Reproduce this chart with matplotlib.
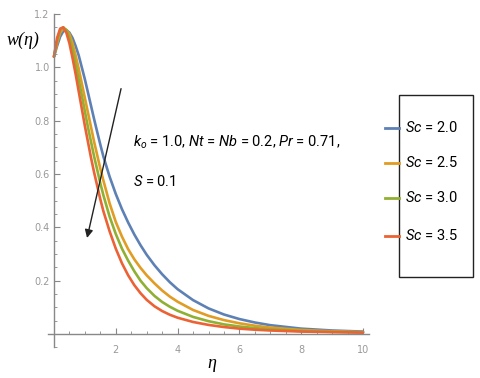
import matplotlib
matplotlib.use("Agg")
import matplotlib.pyplot as plt
from matplotlib.lines import Line2D
from matplotlib.patches import Rectangle
from matplotlib.ticker import MultipleLocator, FixedLocator

narrow = "Roboto"
plt.rcParams["mathtext.fontset"] = "custom"
plt.rcParams["mathtext.rm"] = narrow
plt.rcParams["mathtext.it"] = narrow + ":italic"

eta = [0, 0.1, 0.2, 0.3, 0.4, 0.5, 0.6, 0.7, 0.8, 0.9, 1.0, 1.1, 1.2, 1.3, 1.4, 1.5, 1.6,
       1.8, 2.0, 2.2, 2.4, 2.6, 2.8, 3.0, 3.25, 3.5, 3.75, 4.0, 4.5, 5.0, 5.5, 6.0, 6.5,
       7.0, 8.0, 9.0, 10.0]

w_sc20 = [1.04, 1.08, 1.115, 1.135, 1.14, 1.13, 1.11, 1.08, 1.045, 1.0, 0.955, 0.905, 0.855,
          0.805, 0.757, 0.71, 0.665, 0.59, 0.525, 0.468, 0.418, 0.373, 0.333, 0.297, 0.258,
          0.224, 0.194, 0.168, 0.127, 0.096, 0.073, 0.056, 0.043, 0.033, 0.02, 0.013, 0.009]
w_sc25 = [1.04, 1.09, 1.13, 1.145, 1.14, 1.125, 1.09, 1.045, 0.995, 0.94, 0.885, 0.83, 0.775,
          0.72, 0.67, 0.62, 0.575, 0.49, 0.42, 0.365, 0.318, 0.28, 0.248, 0.22, 0.19,
          0.163, 0.14, 0.121, 0.09, 0.068, 0.052, 0.04, 0.031, 0.024, 0.015, 0.01, 0.007]
w_sc30 = [1.04, 1.10, 1.14, 1.15, 1.14, 1.11, 1.065, 1.01, 0.955, 0.895, 0.835, 0.775, 0.72,
          0.665, 0.615, 0.565, 0.52, 0.44, 0.375, 0.32, 0.275, 0.235, 0.2, 0.172, 0.143,
          0.12, 0.102, 0.087, 0.064, 0.048, 0.036, 0.028, 0.022, 0.017, 0.011, 0.008, 0.006]
w_sc35 = [1.04, 1.11, 1.145, 1.15, 1.13, 1.09, 1.035, 0.975, 0.91, 0.845, 0.78, 0.72, 0.66,
          0.605, 0.555, 0.505, 0.46, 0.385, 0.32, 0.265, 0.22, 0.183, 0.153, 0.128, 0.104,
          0.086, 0.072, 0.061, 0.045, 0.034, 0.026, 0.02, 0.016, 0.013, 0.009, 0.007, 0.005]

series = [w_sc20, w_sc25, w_sc30, w_sc35]
labels = ["$Sc$ = 2.0", "$Sc$ = 2.5", "$Sc$ = 3.0", "$Sc$ = 3.5"]
colors = ["#5E81B5", "#E19C24", "#8FB032", "#EB6235"]

xticks = [2, 4, 6, 8, 10]
yticks = [0.2, 0.4, 0.6, 0.8, 1.0, 1.2]

W, H = 480, 378
fig = plt.figure(figsize=(W / 100, H / 100), dpi=100)
ax = fig.add_axes([47.8 / W, 1 - 347.3 / H, 321.4 / W, (347.3 - 14) / H])

for ys, c in zip(series, colors):
    ax.plot(eta, ys, color=c, lw=1.9, solid_capstyle="round", solid_joinstyle="round")

ax.set_xlim(-0.2, 10.2)
ax.set_ylim(-0.05, 1.2)

for s in ["top", "right"]:
    ax.spines[s].set_visible(False)
ax.spines["left"].set_position(("data", 0))
ax.spines["bottom"].set_position(("data", 0))
axcol = "#888888"
ax.spines["left"].set_color(axcol)
ax.spines["bottom"].set_color(axcol)
ax.spines["left"].set_linewidth(1.0)
ax.spines["bottom"].set_linewidth(1.0)

ax.xaxis.set_major_locator(FixedLocator(xticks))
ax.yaxis.set_major_locator(FixedLocator(yticks))
ax.xaxis.set_minor_locator(MultipleLocator(0.5))
ax.yaxis.set_minor_locator(MultipleLocator(0.05))
ax.set_xticklabels([str(t) for t in xticks])
ax.set_yticklabels([f"{t:.1f}" for t in yticks])
ax.tick_params(axis="both", which="major", direction="in", length=4, width=0.8,
               color=axcol, labelcolor="#999999", labelsize=7)
ax.tick_params(axis="both", which="minor", direction="in", length=2.2, width=0.6, color=axcol)
ax.tick_params(axis="x", pad=8)
ax.tick_params(axis="y", pad=3)
ax.patch.set_alpha(0)

fig.text(23 / W, 1 - 40 / H, "w(η)", fontsize=13, ha="center", va="center",
         family="Liberation Serif", style="italic")
fig.text(212 / W, 1 - 364 / H, "η", fontsize=13, ha="center", va="center",
         family="Liberation Serif", style="italic")

ax.annotate("", xy=(1.07, 0.36), xytext=(2.17, 0.92),
            arrowprops=dict(arrowstyle="-|>", color="#222222", lw=1.0,
                            mutation_scale=12, shrinkA=0, shrinkB=0))

ax.text(2.55, 0.72, "$k_o$ = 1.0, $Nt$ = $Nb$ = 0.2, $Pr$ = 0.71,", fontsize=10.5,
        ha="left", va="center", family=narrow)
ax.text(2.55, 0.57, "$S$ = 0.1", fontsize=10.5, ha="left", va="center", family=narrow)

# legend box
fig.add_artist(Rectangle((399 / W, 1 - 277 / H), 74 / W, 182 / H, transform=fig.transFigure,
                         fill=False, edgecolor="#222222", lw=1.0))
leg_y = [128, 163, 198, 236]
for yy, lab, c in zip(leg_y, labels, colors):
    fig.add_artist(Line2D([385 / W, 399 / W], [1 - yy / H, 1 - yy / H], color=c, lw=2.0,
                          transform=fig.transFigure))
    fig.text(405 / W, 1 - yy / H, lab, fontsize=10.5, ha="left", va="center", family=narrow)

fig.savefig("out.png", dpi=100)
